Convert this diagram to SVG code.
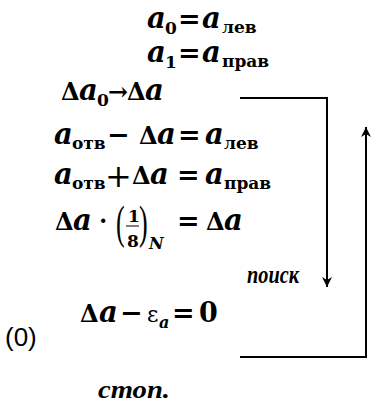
<svg xmlns="http://www.w3.org/2000/svg" width="371" height="406" viewBox="0 0 371 406">
<style>
text{font-family:"DejaVu Serif","Liberation Serif",serif;fill:#000}
.v{font-style:italic;font-weight:bold;font-size:29px}
.u{font-weight:bold;font-size:24px}
.e{font-weight:bold;font-size:27px}
.s{font-weight:bold;font-size:17px}
.si{font-style:italic;font-weight:bold;font-size:16px}
.w{font-family:"Liberation Serif",serif;font-style:italic;font-weight:bold;font-size:26px}
.n{font-family:"Liberation Sans",sans-serif;font-size:26px}
.p{font-family:"Liberation Serif",serif;font-size:26px}
.c{stroke:#000;stroke-width:2;fill:none}
</style>
<defs>
<marker id="ah" viewBox="0 0 10 10" refX="10" refY="5" markerWidth="10" markerHeight="10" markerUnits="userSpaceOnUse" orient="auto">
<path d="M0,0 L10,5 L0,10 L3,5 z" fill="#000"/>
</marker>
</defs>
<g id="connectors">
<path class="c" d="M240,98 H327 V287" marker-end="url(#ah)"/>
<path class="c" d="M240,357 H366 V127" marker-end="url(#ah)"/>
</g>
<g id="eq1"><text><tspan class="v" x="147" y="28">a</tspan><tspan class="s" x="165" y="34">0</tspan><tspan class="e" x="178" y="28">=</tspan><tspan class="v" x="202" y="28">a</tspan><tspan class="s" x="222" y="33">лев</tspan></text></g>
<g id="eq2"><text><tspan class="v" x="147" y="62">a</tspan><tspan class="s" x="165" y="68">1</tspan><tspan class="e" x="178" y="62">=</tspan><tspan class="v" x="202" y="62">a</tspan><tspan class="s" x="222" y="67">прав</tspan></text></g>
<g id="eq3"><text><tspan class="u" x="61" y="100">Δ</tspan><tspan class="v" x="79" y="100">a</tspan><tspan class="s" x="97" y="106">0</tspan><tspan class="u" x="108" y="100" font-size="20">→</tspan><tspan class="u" x="127" y="100">Δ</tspan><tspan class="v" x="145" y="100">a</tspan></text></g>
<g id="eq4"><text><tspan class="v" x="54" y="144">a</tspan><tspan class="s" x="72" y="149">отв</tspan><tspan class="e" x="107" y="144" font-size="30">−</tspan><tspan class="u" x="139" y="144">Δ</tspan><tspan class="v" x="157" y="144">a</tspan><tspan class="e" x="178" y="144">=</tspan><tspan class="v" x="205" y="144">a</tspan><tspan class="s" x="224" y="149">лев</tspan></text></g>
<g id="eq5"><text><tspan class="v" x="54" y="184">a</tspan><tspan class="s" x="72" y="189">отв</tspan><tspan x="105" y="187" font-size="32">+</tspan><tspan class="u" x="132" y="184">Δ</tspan><tspan class="v" x="150" y="184">a</tspan><tspan class="e" x="177" y="184">=</tspan><tspan class="v" x="205" y="184">a</tspan><tspan class="s" x="224" y="189">прав</tspan></text></g>
<g id="eq6">
<text><tspan class="u" x="55" y="230">Δ</tspan><tspan class="v" x="73" y="230">a</tspan><tspan class="u" x="99" y="229">·</tspan></text>
<text class="p" x="116" y="238" transform="translate(0,-178) scale(1,1.75)">(</text>
<text class="s" x="128" y="222">1</text>
<line x1="126" y1="226" x2="139" y2="226" stroke="#000" stroke-width="1"/>
<text class="s" x="127" y="247">8</text>
<text class="p" x="139" y="238" transform="translate(0,-178) scale(1,1.75)">)</text>
<text class="si" x="149" y="249">N</text>
<text><tspan class="e" x="177" y="230">=</tspan><tspan class="u" x="206" y="230">Δ</tspan><tspan class="v" x="224" y="230">a</tspan></text>
</g>
<g id="search"><text class="w" x="247" y="283" textLength="52" lengthAdjust="spacingAndGlyphs">поиск</text></g>
<g id="eq7"><text><tspan class="u" x="80" y="322">Δ</tspan><tspan class="v" x="99" y="322">a</tspan><tspan class="e" x="120" y="322">−</tspan><tspan x="147" y="322" font-size="22">ε</tspan><tspan class="si" x="159" y="328">a</tspan><tspan class="e" x="172" y="322">=</tspan><tspan class="e" x="199" y="322">0</tspan></text></g>
<g id="label0"><text class="n" x="5" y="346">(0)</text></g>
<g id="stop"><text class="w" x="98" y="398" textLength="72" lengthAdjust="spacingAndGlyphs">стоп.</text></g>
</svg>
